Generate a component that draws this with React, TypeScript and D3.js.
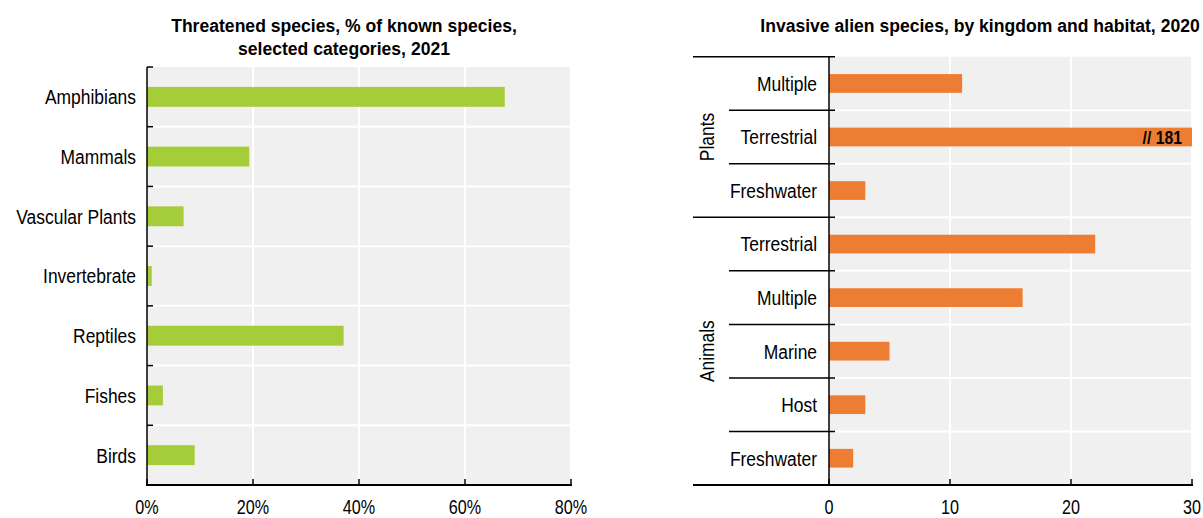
import React from "react";
import * as d3 from "d3";

const leftCategories = ["Amphibians", "Mammals", "Vascular Plants", "Invertebrate", "Reptiles", "Fishes", "Birds"];
const leftValues = [67.5, 19.3, 6.9, 0.9, 37.1, 3.0, 9.0];
const leftTicks = [0, 20, 40, 60, 80];
const leftTickLabels = ["0%", "20%", "40%", "60%", "80%"];
const leftTitle = ["Threatened species, % of known species,", "selected categories, 2021"];

const rightKingdoms = ["Plants", "Plants", "Plants", "Animals", "Animals", "Animals", "Animals", "Animals"];
const rightHabitats = ["Multiple", "Terrestrial", "Freshwater", "Terrestrial", "Multiple", "Marine", "Host", "Freshwater"];
const rightValues = [11, 181, 3, 22, 16, 5, 3, 2];
const rightTicks = [0, 10, 20, 30];
const rightTitle = "Invasive alien species, by kingdom and habitat, 2020";

const FONT = "'Liberation Sans Narrow', 'Arial Narrow', 'Liberation Sans', Arial, sans-serif";
const GREEN = "#a5cd39";
const ORANGE = "#ed7d33";
const BG = "#f0f0f0";

type NTProps = {
  x: number;
  y: number;
  anchor?: "start" | "middle" | "end";
  size: number;
  bold?: boolean;
  sx?: number;
  dy?: string;
  rotate?: number;
  children: React.ReactNode;
};

function NText({ x, y, anchor = "start", size, bold, sx = 0.83, dy, rotate, children }: NTProps) {
  const tr = `translate(${x},${y})${rotate ? ` rotate(${rotate})` : ""} scale(${sx},1)`;
  return (
    <text transform={tr} textAnchor={anchor} fontSize={size} fontWeight={bold ? "bold" : "normal"} dy={dy} fill="#000">
      {children}
    </text>
  );
}

function LeftChart() {
  const x = d3.scaleLinear().domain([0, 80]).range([147, 571]);
  const y = d3.scaleBand<string>().domain(leftCategories).range([67, 485]).padding(0);
  const bw = y.bandwidth();
  const barH = bw / 3;
  const [x0, x1] = x.range();
  const [y0, y1] = y.range();
  return (
    <g>
      {leftTitle.map((t, i) => (
        <NText key={i} x={344} y={32 + i * 23} anchor="middle" bold size={19} sx={0.925}>
          {t}
        </NText>
      ))}
      <rect x={x0} y={y0} width={x1 - x0} height={y1 - y0} fill={BG} />
      {leftTicks.slice(1).map((t) => (
        <line key={t} x1={x(t)} x2={x(t)} y1={y0} y2={y1} stroke="#fff" strokeWidth={2} />
      ))}
      {leftCategories.slice(1).map((c) => (
        <line key={c} x1={x0} x2={x1} y1={y(c)!} y2={y(c)!} stroke="#fff" strokeWidth={2} />
      ))}
      {leftCategories.map((c, i) => (
        <rect key={c} x={x(0)} y={y(c)! + (bw - barH) / 2} width={x(leftValues[i]) - x(0)} height={barH} fill={GREEN} />
      ))}
      {leftCategories.map((c) => (
        <NText key={c} x={136} y={y(c)! + bw / 2} dy="0.35em" anchor="end" size={21}>
          {c}
        </NText>
      ))}
      {leftCategories.map((c) => (
        <line key={c} x1={x0} x2={x0 + 6} y1={y(c)!} y2={y(c)!} stroke="#000" strokeWidth={1.5} />
      ))}
      <line x1={x0} x2={x0} y1={y0} y2={y1} stroke="#000" strokeWidth={1.5} />
      <line x1={x0 - 1} x2={x1 + 1} y1={y1} y2={y1} stroke="#000" strokeWidth={2} />
      {leftTicks.map((t, i) => (
        <g key={t}>
          <line x1={x(t)} x2={x(t)} y1={y1} y2={y1 - 6} stroke="#000" strokeWidth={1.5} />
          <NText x={x(t)} y={514} anchor="middle" size={19.5}>
            {leftTickLabels[i]}
          </NText>
        </g>
      ))}
    </g>
  );
}

function RightChart() {
  const keys = rightHabitats.map((h, i) => `${rightKingdoms[i]}-${h}`);
  const x = d3.scaleLinear().domain([0, 30]).range([829, 1192]);
  const y = d3.scaleBand<string>().domain(keys).range([56.7, 485]).padding(0);
  const bw = y.bandwidth();
  const barH = bw * 0.35;
  const [x0, x1] = x.range();
  const [y0, y1] = y.range();
  const maxV = x.domain()[1];
  const groups = Array.from(new Set(rightKingdoms));
  const groupExtent = groups.map((g) => {
    const idx = keys.filter((_, i) => rightKingdoms[i] === g);
    return { g, top: y(idx[0])!, bottom: y(idx[idx.length - 1])! + bw };
  });
  return (
    <g>
      <NText x={980} y={32} anchor="middle" bold size={19} sx={0.925}>
        {rightTitle}
      </NText>
      <rect x={x0} y={y0} width={x1 - x0} height={y1 - y0} fill={BG} />
      {rightTicks.slice(1).map((t) => (
        <line key={t} x1={x(t)} x2={x(t)} y1={y0} y2={y1} stroke="#fff" strokeWidth={2} />
      ))}
      {keys.slice(1).map((k) => (
        <line key={k} x1={x0} x2={x1} y1={y(k)!} y2={y(k)!} stroke="#fff" strokeWidth={2} />
      ))}
      {keys.map((k, i) => {
        const v = Math.min(rightValues[i], maxV);
        const by = y(k)! + (bw - barH) / 2;
        return (
          <g key={k}>
            <rect x={x(0)} y={by} width={x(v) - x(0)} height={barH} fill={ORANGE} />
            {rightValues[i] > maxV && (
              <NText x={x(maxV) - 10} y={by + barH / 2} dy="0.35em" anchor="end" bold size={19}>
                {`// ${rightValues[i]}`}
              </NText>
            )}
          </g>
        );
      })}
      {keys.map((k, i) => (
        <NText key={k} x={817} y={y(k)! + bw / 2} dy="0.35em" anchor="end" size={21}>
          {rightHabitats[i]}
        </NText>
      ))}
      {keys.map((k, i) => {
        const isGroupStart = i === 0 || rightKingdoms[i] !== rightKingdoms[i - 1];
        return (
          <line key={k} x1={isGroupStart ? 693 : 729} x2={835} y1={y(k)!} y2={y(k)!} stroke="#000" strokeWidth={1.5} />
        );
      })}
      {groupExtent.map(({ g, top, bottom }) => (
        <NText key={g} x={707} y={(top + bottom) / 2} rotate={-90} dy="0.35em" anchor="middle" size={21}>
          {g}
        </NText>
      ))}
      <line x1={x0} x2={x0} y1={y0} y2={y1} stroke="#000" strokeWidth={1.5} />
      <line x1={693} x2={x1 + 1} y1={y1} y2={y1} stroke="#000" strokeWidth={2} />
      {rightTicks.map((t) => (
        <g key={t}>
          <line x1={x(t)} x2={x(t)} y1={y1} y2={y1 - 6} stroke="#000" strokeWidth={1.5} />
          <NText x={x(t)} y={514} anchor="middle" size={19.5}>
            {t}
          </NText>
        </g>
      ))}
    </g>
  );
}

export default function App() {
  React.useEffect(() => {
    document.body.style.margin = "0";
  }, []);
  return (
    <svg width={1203} height={518} style={{ display: "block", fontFamily: FONT, background: "#fff" }}>
      <LeftChart />
      <RightChart />
    </svg>
  );
}
